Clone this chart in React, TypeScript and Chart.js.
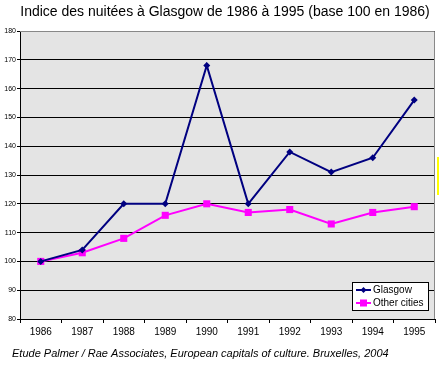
import React, { useEffect, useRef } from "react";
import { Chart, registerables } from "chart.js";

Chart.register(...registerables);

const TITLE = "Indice des nuitées à Glasgow de 1986 à 1995 (base 100 en 1986)";
const CAPTION = "Etude Palmer / Rae Associates, European capitals of culture. Bruxelles, 2004";
const years = ["1986", "1987", "1988", "1989", "1990", "1991", "1992", "1993", "1994", "1995"];
const glasgow = [100, 104, 120, 120, 168, 120, 138, 131, 136, 156];
const otherCities = [100, 103, 108, 116, 120, 117, 118, 113, 117, 119];
const yMin = 80;
const yMax = 180;
const yStep = 10;

const FONT = "Arial, 'Liberation Sans', sans-serif";

const decorPlugin = {
  id: "decor",
  beforeDraw(chart: any) {
    const { ctx, chartArea: a } = chart;
    ctx.save();
    ctx.fillStyle = "#ffffff";
    ctx.fillRect(0, 0, chart.width, chart.height);
    ctx.fillStyle = "#e4e4e4";
    ctx.fillRect(a.left, a.top, a.right - a.left, a.bottom - a.top);
    ctx.restore();
  },
  afterDraw(chart: any) {
    const { ctx, chartArea: a } = chart;
    ctx.save();
    ctx.strokeStyle = "#888888";
    ctx.lineWidth = 1;
    ctx.beginPath();
    ctx.moveTo(a.left, a.top + 0.5);
    ctx.lineTo(a.right - 0.5, a.top + 0.5);
    ctx.lineTo(a.right - 0.5, a.bottom);
    ctx.stroke();
    ctx.fillStyle = "#000";
    ctx.font = `14px ${FONT}`;
    ctx.textAlign = "center";
    ctx.textBaseline = "middle";
    ctx.fillText(TITLE, 225, 12);
    ctx.font = `italic 11px ${FONT}`;
    ctx.textAlign = "left";
    ctx.fillText(CAPTION, 12, 354);
    const bx = 352, by = 282, bw = 76, bh = 28;
    ctx.fillStyle = "#ffffff";
    ctx.fillRect(bx, by, bw, bh);
    ctx.strokeStyle = "#000";
    ctx.strokeRect(bx + 0.5, by + 0.5, bw, bh);
    const ds = chart.data.datasets;
    ds.forEach((d: any, i: number) => {
      const ly = by + 8 + i * 13;
      ctx.strokeStyle = d.borderColor;
      ctx.lineWidth = 2;
      ctx.beginPath();
      ctx.moveTo(bx + 4, ly);
      ctx.lineTo(bx + 19, ly);
      ctx.stroke();
      ctx.fillStyle = d.borderColor;
      if (d.pointStyle === "rect") {
        ctx.fillRect(bx + 8, ly - 3.5, 7, 7);
      } else {
        ctx.beginPath();
        ctx.moveTo(bx + 11.5, ly - 3);
        ctx.lineTo(bx + 14.5, ly);
        ctx.lineTo(bx + 11.5, ly + 3);
        ctx.lineTo(bx + 8.5, ly);
        ctx.closePath();
        ctx.fill();
      }
      ctx.fillStyle = "#000";
      ctx.font = `10px ${FONT}`;
      ctx.textAlign = "left";
      ctx.textBaseline = "middle";
      ctx.fillText(d.label, bx + 21, ly + 0.5);
    });
    ctx.fillStyle = "#ffff00";
    ctx.fillRect(437, 157, 2, 38);
    ctx.restore();
  },
};

export default function App() {
  const ref = useRef<HTMLCanvasElement>(null);
  useEffect(() => {
    document.body.style.margin = "0";
    const chart = new Chart(ref.current!, {
      type: "line",
      data: {
        labels: years,
        datasets: [
          {
            label: "Glasgow",
            data: glasgow,
            borderColor: "#000080",
            backgroundColor: "#000080",
            borderWidth: 2,
            pointStyle: "rectRot",
            pointRadius: 3.5,
            pointBorderWidth: 0,
            tension: 0,
          },
          {
            label: "Other cities",
            data: otherCities,
            borderColor: "#ff00ff",
            backgroundColor: "#ff00ff",
            borderWidth: 2,
            pointStyle: "rect",
            pointRadius: 5,
            pointBorderWidth: 0,
            tension: 0,
          },
        ],
      },
      options: {
        animation: false,
        responsive: false,
        layout: { padding: { top: 31, right: 5, left: 0, bottom: 0 } },
        plugins: {
          legend: { display: false },
          title: { display: false },
          tooltip: { enabled: false },
        },
        scales: {
          x: {
            type: "category",
            offset: true,
            afterFit: (s: any) => { s.height = 48; },
            grid: {
              offset: true,
              drawOnChartArea: false,
              drawTicks: true,
              tickLength: 4,
              color: "#000",
            },
            border: { color: "#000", width: 1 },
            ticks: {
              color: "#000",
              font: { family: FONT, size: 10 },
              padding: 3,
              maxRotation: 0,
            },
          },
          y: {
            min: yMin,
            max: yMax,
            afterFit: (s: any) => { s.width = 20; },
            grid: {
              color: "#000",
              drawTicks: true,
              tickLength: 3,
            },
            border: { color: "#000", width: 1 },
            ticks: {
              stepSize: yStep,
              color: "#000",
              font: { family: FONT, size: 7 },
              padding: 1,
            },
          },
        },
      },
      plugins: [decorPlugin],
    });
    return () => chart.destroy();
  }, []);
  return <canvas ref={ref} width={440} height={367} style={{ display: "block" }} />;
}
